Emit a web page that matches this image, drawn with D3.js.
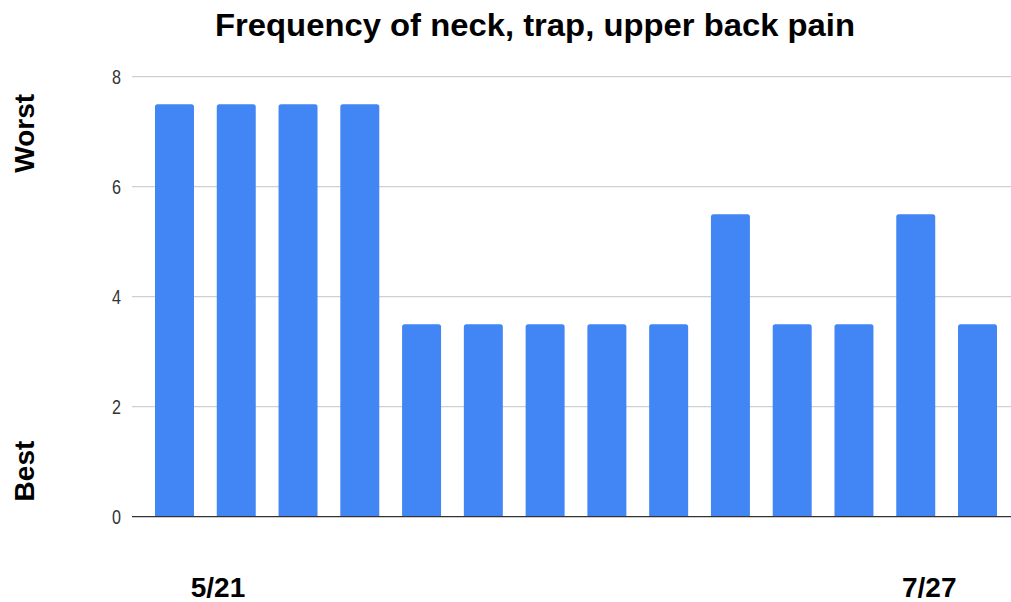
<!DOCTYPE html>
<html>
<head>
<meta charset="utf-8">
<script src="https://cdn.jsdelivr.net/npm/d3@7"></script>
<style>
  html, body { margin: 0; padding: 0; background: #fff; }
  svg { display: block; font-family: "Liberation Sans", Arial, sans-serif; }
</style>
</head>
<body>
<svg id="chart" width="1011" height="602"></svg>
<script>
// Daily entries (14 logged days) and their pain scores
const days = ["d1","d2","d3","d4","d5","d6","d7","d8","d9","d10","d11","d12","d13","d14"];
const painScores = [7.5, 7.5, 7.5, 7.5, 3.5, 3.5, 3.5, 3.5, 3.5, 5.5, 3.5, 3.5, 5.5, 3.5];
const yTicks = [0, 2, 4, 6, 8];
// Date labels shown under the axis, tied to the entry they mark
const dateLabels = [
  { day: "d1", text: "5/21", dx: 43.5 },
  { day: "d13", text: "7/27", dx: 13.5 }
];
const titleText = "Frequency of neck, trap, upper back pain";

const svg = d3.select("#chart");
const W = 1011, H = 602;

const x = d3.scaleBand()
  .domain(days)
  .range([143.6, 1008.4])
  .paddingInner(0.369)
  .paddingOuter(0.1845);

const y = d3.scaleLinear().domain([0, 8]).range([516.7, 76.7]);

// horizontal gridlines
svg.append("g")
  .selectAll("line")
  .data(yTicks.filter(t => t !== 0))
  .join("line")
  .attr("x1", 132).attr("x2", W)
  .attr("y1", d => y(d)).attr("y2", d => y(d))
  .attr("stroke", "#d0d0d0")
  .attr("stroke-width", 1.3);

// y tick labels
svg.append("g")
  .selectAll("text")
  .data(yTicks)
  .join("text")
  .attr("x", 121)
  .attr("y", d => y(d))
  .attr("dy", "0.35em")
  .attr("text-anchor", "end")
  .attr("font-size", 19)
  .attr("fill", "#333")
  .attr("transform", d => `translate(121,${y(d)}) scale(0.85,1.05) translate(-121,${-y(d)})`)
  .text(d => d);

// bars with slightly rounded tops
svg.append("g")
  .selectAll("path")
  .data(days.map((d, i) => ({ day: d, v: painScores[i] })))
  .join("path")
  .attr("fill", "#4285f4")
  .attr("d", d => {
    const x0 = x(d.day), w = x.bandwidth(), yt = y(d.v), yb = y(0), r = 2.5;
    return `M${x0},${yb}V${yt + r}Q${x0},${yt} ${x0 + r},${yt}H${x0 + w - r}Q${x0 + w},${yt} ${x0 + w},${yt + r}V${yb}Z`;
  });

// baseline
svg.append("line")
  .attr("x1", 132).attr("x2", W)
  .attr("y1", y(0)).attr("y2", y(0))
  .attr("stroke", "#333")
  .attr("stroke-width", 1.3);

// title
svg.append("text")
  .attr("x", 535).attr("y", 36)
  .attr("text-anchor", "middle")
  .attr("font-size", 32)
  .attr("font-weight", "bold")
  .attr("fill", "#000")
  .attr("textLength", 640)
  .attr("lengthAdjust", "spacingAndGlyphs")
  .text(titleText);

// y-axis end labels
const yLabels = [{ text: "Worst", v: 6.97 }, { text: "Best", v: 0.83 }];
svg.append("g")
  .selectAll("text")
  .data(yLabels)
  .join("text")
  .attr("transform", d => `translate(34,${y(d.v)}) rotate(-90)`)
  .attr("text-anchor", "middle")
  .attr("font-size", 28)
  .attr("font-weight", "bold")
  .attr("fill", "#000")
  .text(d => d.text);

// date labels
svg.append("g")
  .selectAll("text")
  .data(dateLabels)
  .join("text")
  .attr("x", d => x(d.day) + x.bandwidth() / 2 + d.dx)
  .attr("y", 597)
  .attr("text-anchor", "middle")
  .attr("font-size", 28)
  .attr("font-weight", "bold")
  .attr("fill", "#000")
  .text(d => d.text);
</script>
</body>
</html>
